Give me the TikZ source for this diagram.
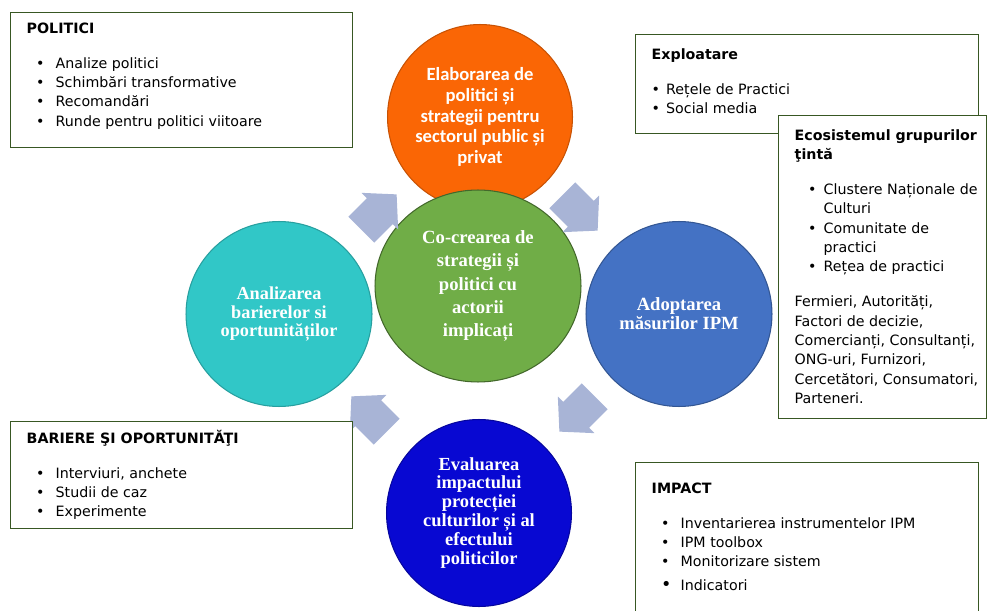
\documentclass[tikz,border=0pt]{standalone}
\usepackage{fontspec}
\setmainfont{DejaVu Sans}
\newfontfamily\stagefont{Liberation Serif}
\newfontfamily\topfont{Carlito}
\usepackage{xcolor}
\usepackage{tikz}
\usetikzlibrary{shapes.geometric,shapes.arrows,positioning}

\definecolor{boxgreen}{RGB}{56,87,35}
\definecolor{stageorange}{RGB}{250,102,5}
\definecolor{stagegreen}{RGB}{112,173,71}
\definecolor{stageblue}{RGB}{68,114,196}
\definecolor{stagecyan}{RGB}{49,199,199}
\definecolor{stagenavy}{RGB}{8,8,210}
\definecolor{arrowblue}{RGB}{168,180,214}

\newlength\itmindent
\newlength\itmgap
\newcommand{\itm}[1]{\hspace*{\itmindent}\makebox[\itmgap][l]{\textbullet}#1}
\newcommand{\boxbody}[3]{\begin{minipage}[t][#2][t]{#1}\raggedright\leftskip=0.32cm #3\end{minipage}}
\newcommand{\boxfont}{\fontsize{8.1}{11}\selectfont}

\begin{document}
\begin{tikzpicture}[
    x=0.02cm, y=-0.02cm,
    stage/.style={ellipse, inner sep=0pt, align=center, text=white, line width=0.6pt},
    cyclearrow/.style={single arrow, fill=arrowblue, draw=none, inner xsep=0pt, inner ysep=0.36cm,
        minimum height=1cm, single arrow head extend=0.15cm, single arrow tip angle=95},
    infobox/.style={rectangle, draw=boxgreen, line width=0.8pt, fill=white, anchor=north west,
        inner xsep=0pt, inner ysep=0.2cm, font=\boxfont},
]
\clip (0,0) rectangle (987,611);

% Cycle of stages
\node[stage, fill=stageorange, draw=stageorange!80!black, minimum width=3.7cm, minimum height=3.7cm,
      font=\topfont\bfseries\fontsize{10.6}{11.8}\selectfont] (elaborare) at (480,117)
      {Elaborarea de\\politici și\\strategii pentru\\sectorul public și\\privat};
\node[stage, fill=stagegreen, draw=stagegreen!60!black, minimum width=4.12cm, minimum height=3.84cm,
      font=\stagefont\bfseries\fontsize{10.6}{13.3}\selectfont] (cocreare) at (478,286)
      {Co-crearea de\\strategii și\\politici cu\\actorii\\implicați};
\node[stage, fill=stagecyan, draw=stagecyan!80!black, minimum width=3.72cm, minimum height=3.7cm,
      font=\stagefont\bfseries\fontsize{10.4}{10.3}\selectfont] (analiza) at (279,314)
      {Analizarea\\barierelor si\\oportunităților};
\node[stage, fill=stageblue, draw=stageblue!75!black, minimum width=3.72cm, minimum height=3.7cm,
      font=\stagefont\bfseries\fontsize{10.6}{10.8}\selectfont] (adoptare) at (679,314)
      {Adoptarea\\măsurilor IPM};
\node[stage, fill=stagenavy, draw=stagenavy!75!black, minimum width=3.7cm, minimum height=3.74cm,
      font=\stagefont\bfseries\fontsize{10.5}{10.8}\selectfont] (evaluare) at (479,513)
      {Evaluarea\\impactului\\protecției\\culturilor și al\\efectului\\politicilor};

% Arrows between stages
\node[cyclearrow, rotate=45] (arrow1) at (373,218) {};
\node[cyclearrow, rotate=-45] (arrow2) at (574,207) {};
\node[cyclearrow, rotate=-135] (arrow3) at (583,408) {};
\node[cyclearrow, rotate=135] (arrow4) at (375,420) {};

% Boxes
\node[infobox] (politici) at (10,12) {\boxbody{6.84cm}{2.3cm}{%
    \setlength\itmindent{0.19cm}\setlength\itmgap{0.39cm}%
    \textbf{POLITICI}\\[8.8pt]
    \itm{Analize politici}\\
    \itm{Schimbări transformative}\\
    \itm{Recomandări}\\
    \itm{Runde pentru politici viitoare}}};
\node[infobox] (bariere) at (10,421) {\boxbody{6.84cm}{1.74cm}{%
    \setlength\itmindent{0.19cm}\setlength\itmgap{0.39cm}%
    \vspace*{-0.03cm}%
    \textbf{BARIERE ŞI OPORTUNITĂŢI}\\[8.8pt]
    \itm{Interviuri, anchete}\\
    \itm{Studii de caz}\\
    \itm{Experimente}}};
\node[infobox] (exploatare) at (635,34) {\boxbody{6.86cm}{1.58cm}{%
    \setlength\itmindent{0cm}\setlength\itmgap{0.29cm}%
    \vspace*{0.08cm}%
    \textbf{Exploatare}\\[8.8pt]
    \itm{Rețele de Practici}\\
    \itm{Social media}}};
\node[infobox] (ecosistem) at (778,115) {\boxbody{4.16cm}{5.66cm}{%
    \setlength\itmindent{0.27cm}\setlength\itmgap{0.31cm}%
    \vspace*{0.08cm}%
    \textbf{Ecosistemul grupurilor}\\
    \textbf{ţintă}\\[8.8pt]
    \itm{Clustere Naționale de}\\
    \hspace*{0.58cm}Culturi\\
    \itm{Comunitate de}\\
    \hspace*{0.58cm}practici\\
    \itm{Rețea de practici}\\[8.8pt]
    Fermieri, Autorități,\\
    Factori de decizie,\\
    Comercianți, Consultanți,\\
    ONG-uri, Furnizori,\\
    Cercetători, Consumatori,\\
    Parteneri.}};
\node[infobox] (impact) at (635,462) {\boxbody{6.86cm}{3.0cm}{%
    \setlength\itmindent{0.19cm}\setlength\itmgap{0.39cm}%
    \vspace*{0.2cm}%
    \textbf{IMPACT}\\[8.8pt]
    \itm{Inventarierea instrumentelor IPM}\\
    \itm{IPM toolbox}\\
    \itm{Monitorizare sistem}\\[2.3pt]
    \hspace*{\itmindent}\makebox[\itmgap][l]{\fontsize{10}{11}\selectfont\textbullet}Indicatori}};

\end{tikzpicture}
\end{document}
